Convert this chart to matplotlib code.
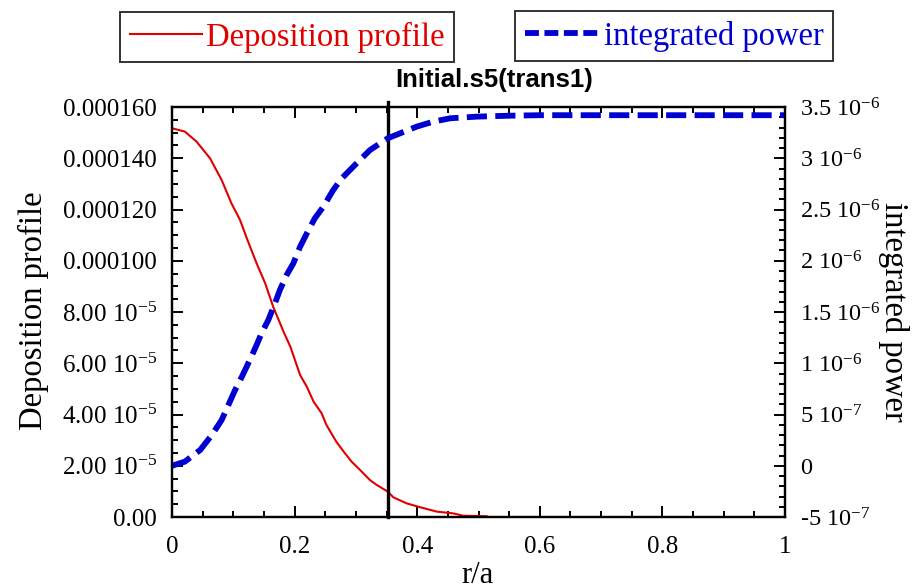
import numpy as np
import matplotlib
matplotlib.use("Agg")
import matplotlib.pyplot as plt
from matplotlib.ticker import MultipleLocator, FixedLocator
from matplotlib.lines import Line2D

plt.rcParams['font.family'] = ['Liberation Serif', 'DejaVu Serif']
plt.rcParams['mathtext.fontset'] = 'custom'
plt.rcParams['mathtext.rm'] = 'Liberation Serif'
plt.rcParams['mathtext.it'] = 'Liberation Serif:italic'
plt.rcParams['lines.scale_dashes'] = False

# ==========================
# Data
# ==========================
r_dep = [0, 0.021, 0.040, 0.062, 0.081, 0.097, 0.111, 0.122, 0.138, 0.152,
         0.165, 0.182, 0.193, 0.209, 0.220, 0.231, 0.244, 0.252, 0.268, 0.282,
         0.293, 0.307, 0.323, 0.334, 0.352, 0.361, 0.383, 0.405, 0.432, 0.459,
         0.475, 0.513]
deposition = np.array([15.17, 15.04, 14.65, 14.00, 13.15, 12.24, 11.59, 10.88, 9.90, 9.12,
                       8.21, 7.23, 6.65, 5.54, 5.08, 4.50, 4.05, 3.59, 2.94, 2.49,
                       2.16, 1.83, 1.44, 1.25, 0.99, 0.77, 0.53, 0.38, 0.21, 0.14,
                       0.05, 0.03]) * 1e-5

r_int = [0, 0.021, 0.046, 0.065, 0.081, 0.092, 0.103, 0.114, 0.127, 0.138,
         0.146, 0.157, 0.168, 0.176, 0.187, 0.198, 0.209, 0.220, 0.233, 0.247,
         0.263, 0.277, 0.301, 0.323, 0.352, 0.372, 0.399, 0.426, 0.454, 0.497,
         0.55, 0.6, 0.7, 0.8, 0.9, 1.0]
integrated = np.array([0.0, 0.04, 0.154, 0.30, 0.446, 0.593, 0.74, 0.869, 1.032, 1.178,
                       1.292, 1.42, 1.585, 1.715, 1.861, 1.975, 2.137, 2.268, 2.414, 2.528,
                       2.69, 2.804, 2.95, 3.08, 3.195, 3.243, 3.308, 3.357, 3.39, 3.406,
                       3.415, 3.42, 3.42, 3.42, 3.42, 3.42]) * 1e-6

r_marker = 0.352

x_ticks = [0, 0.2, 0.4, 0.6, 0.8, 1.0]
x_labels = ['0', '0.2', '0.4', '0.6', '0.8', '1']
left_ticks = [0, 2e-5, 4e-5, 6e-5, 8e-5, 1e-4, 1.2e-4, 1.4e-4, 1.6e-4]
left_labels = ['0.00', r'2.00 10$^{-5}$', r'4.00 10$^{-5}$', r'6.00 10$^{-5}$',
               r'8.00 10$^{-5}$', '0.000100', '0.000120', '0.000140', '0.000160']
right_ticks = [-5e-7, 0, 5e-7, 1e-6, 1.5e-6, 2e-6, 2.5e-6, 3e-6, 3.5e-6]
right_labels = [r'-5 10$^{-7}$', '0', r'5 10$^{-7}$', r'1 10$^{-6}$', r'1.5 10$^{-6}$',
                r'2 10$^{-6}$', r'2.5 10$^{-6}$', r'3 10$^{-6}$', r'3.5 10$^{-6}$']

RED = '#e00000'
BLUE = '#0000d0'

# ==========================
# Plot
# ==========================
fig = plt.figure(figsize=(9.22, 5.85), dpi=100)
ax = fig.add_axes([172/922, 1 - 517/585, (785 - 172)/922, (517 - 107)/585])
ax2 = ax.twinx()

ax.plot(r_dep, deposition, color=RED, lw=1.5)
ax2.plot(r_int, integrated, color=BLUE, lw=4.2, dashes=(14.5, 6.0))
ax.axvline(r_marker, color='black', lw=2.4, ymax=1.012, clip_on=False)

ax.set_xlim(0, 1)
ax.set_ylim(0, 1.6e-4)
ax2.set_ylim(-5e-7, 3.5e-6)

ax.xaxis.set_major_locator(FixedLocator(x_ticks))
ax.set_xticklabels(x_labels)
ax.xaxis.set_minor_locator(MultipleLocator(0.05))
ax.yaxis.set_major_locator(FixedLocator(left_ticks))
ax.set_yticklabels(left_labels)
ax.yaxis.set_minor_locator(MultipleLocator(5e-6))
ax2.yaxis.set_major_locator(FixedLocator(right_ticks))
ax2.set_yticklabels(right_labels)
ax2.yaxis.set_minor_locator(MultipleLocator(1e-7))

for a in (ax, ax2):
    for s in a.spines.values():
        s.set_linewidth(1.6)
ax.tick_params(which='both', direction='in', top=True, right=False, width=1.4)
ax.tick_params(which='major', length=8, labelsize=18, pad=11)
ax.tick_params(axis='x', which='major', pad=14)
ax.tick_params(which='minor', length=4.5)
ax2.tick_params(which='both', direction='in', width=1.4)
ax2.tick_params(which='major', length=8, labelsize=17.5, pad=11)
ax2.tick_params(which='minor', length=4.5)

# axis labels and title
fig.text(33/922, 1 - 311/585, 'Deposition profile', rotation=90, fontsize=23.5,
         ha='center', va='center')
fig.text(893/922, 1 - 312/585, 'integrated power', rotation=270, fontsize=23.5,
         ha='center', va='center')
fig.text(478/922, 2/585, 'r/a', fontsize=22, ha='center', va='baseline')
fig.text(494/922, 1 - 80/585, 'Initial.s5(trans1)', fontsize=18.5, fontweight='bold',
         family='Liberation Sans', ha='center', va='center')

# two separate legend boxes
h1 = Line2D([], [], color=RED, lw=1.5)
h2 = Line2D([], [], color=BLUE, lw=4.2, dashes=(10, 4))
leg_kw = dict(loc='center', fontsize=23.5, frameon=True, fancybox=False,
              edgecolor='black', handletextpad=0.12, borderpad=0.3,
              borderaxespad=0, labelcolor='linecolor')
leg1 = fig.legend([h1], ['Deposition profile'], bbox_to_anchor=(287/922, 1 - 37/585),
                  handlelength=2.2, **leg_kw)
leg2 = fig.legend([h2], ['integrated power'], bbox_to_anchor=(674/922, 1 - 36/585),
                  handlelength=2.3, **leg_kw)
for leg in (leg1, leg2):
    leg.get_frame().set_linewidth(1.4)

fig.savefig('out.png', dpi=100)
